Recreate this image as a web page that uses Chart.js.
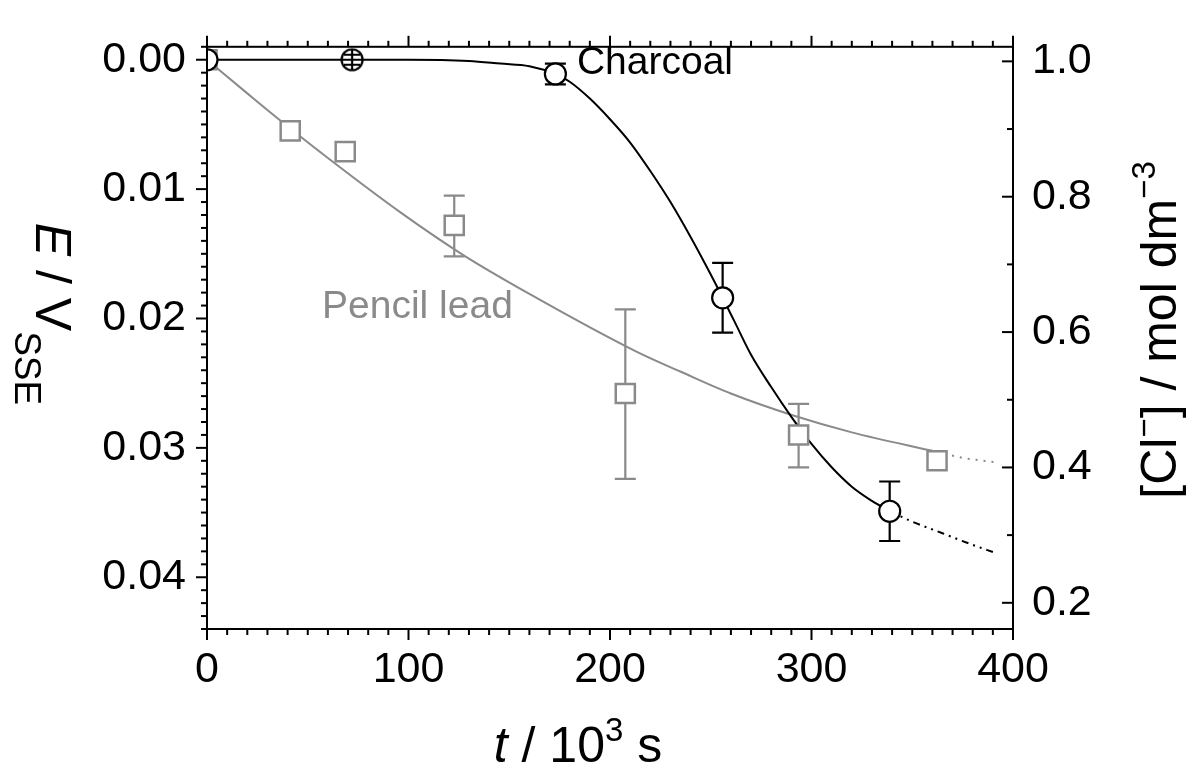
<!DOCTYPE html>
<html>
<head>
<meta charset="utf-8">
<script src="https://cdn.jsdelivr.net/npm/chart.js@4/dist/chart.umd.min.js"></script>
<style>
  html, body { margin: 0; padding: 0; background: #fff; }
  #wrap { width: 1187px; height: 769px; }
</style>
</head>
<body>
<div id="wrap"><canvas id="c" width="1187" height="769"></canvas></div>
<script>
"use strict";

// ── DATA ─────────────────────────────────
// t in 10^3 s, E in V(SSE)
const charcoalT  = [0, 72.0, 172.9, 255.9, 338.8];
const charcoalE  = [0.0000, 0.0000, 0.0011, 0.0184, 0.0349];
const charcoalLo = [null, null, 0.0003, 0.0157, 0.0326];
const charcoalHi = [null, null, 0.0019, 0.0211, 0.0372];

const pencilT  = [0, 41.3, 68.6, 122.7, 207.6, 293.6, 362.3];
const pencilE  = [0.0000, 0.0055, 0.0071, 0.0128, 0.0258, 0.0290, 0.0310];
const pencilLo = [null, null, null, 0.0105, 0.0193, 0.0266, null];
const pencilHi = [null, null, null, 0.0152, 0.0324, 0.0315, null];

// fitted curves
const charcoalFitT = [0, 60, 100, 130, 145.6, 160, 172.9, 180, 190, 200, 210, 220, 230, 240, 250, 255.9, 262, 270, 280, 290, 300, 310, 320, 330, 338.8];
const charcoalFitE = [0, 0, 0, 0.0001, 0.0003, 0.0005, 0.0011, 0.0017, 0.0030, 0.0046, 0.0064, 0.0086, 0.0110, 0.0137, 0.0166, 0.0184, 0.0203, 0.0228, 0.0253, 0.0276, 0.0297, 0.0315, 0.0330, 0.0341, 0.0349];
const charcoalExtT = [338.8, 350, 365, 380, 391];
const charcoalExtE = [0.0349, 0.0357, 0.0366, 0.0375, 0.0381];

const pencilFitT = [0, 20, 36.4, 60, 96, 127.2, 160, 213.6, 234.9, 260, 291, 320, 362];
const pencilFitE = [0, 0.0026, 0.0047, 0.0076, 0.0118, 0.0151, 0.0181, 0.0226, 0.0241, 0.0258, 0.0275, 0.0288, 0.0303];
const pencilExtT = [362, 376, 391];
const pencilExtE = [0.0303, 0.0308, 0.0311];

// axes
const xTicks  = [0, 100, 200, 300, 400];
const eTicks  = [0.00, 0.01, 0.02, 0.03, 0.04];
const clTicks = [0.2, 0.4, 0.6, 0.8, 1.0];

const FONT = "'Liberation Sans', Arial, Helvetica, sans-serif";
const GRAY = "#8a8a8a";

const pts = (xs, ys) => xs.map((x, i) => ({ x: x, y: ys[i] }));

// circle with tiny error bar drawn inside (⊕ look)
function crossedCircle() {
  const c = document.createElement("canvas");
  c.width = 28; c.height = 28;
  const g = c.getContext("2d");
  g.fillStyle = "#fff"; g.strokeStyle = "#000"; g.lineWidth = 2.2;
  g.beginPath(); g.arc(14, 14, 10.5, 0, Math.PI * 2); g.fill(); g.stroke();
  g.beginPath();
  g.moveTo(3.5, 14); g.lineTo(24.5, 14);
  g.moveTo(14, 3.5); g.lineTo(14, 24.5);
  g.moveTo(6, 9); g.lineTo(22, 9);
  g.moveTo(6, 19); g.lineTo(22, 19);
  g.stroke();
  return c;
}

// ── PLUGINS ──────────────────────────────
function drawBars(ctx, x, y, ts, lo, hi, color) {
  ctx.strokeStyle = color;
  ctx.lineWidth = 2.2;
  ts.forEach((t, i) => {
    if (lo[i] == null) return;
    const px = x.getPixelForValue(t);
    const a = y.getPixelForValue(lo[i]);
    const b = y.getPixelForValue(hi[i]);
    ctx.beginPath();
    ctx.moveTo(px, a); ctx.lineTo(px, b);
    ctx.moveTo(px - 10.5, a); ctx.lineTo(px + 10.5, a);
    ctx.moveTo(px - 10.5, b); ctx.lineTo(px + 10.5, b);
    ctx.stroke();
  });
}

const errorBars = {
  id: "errorBars",
  beforeDatasetsDraw(chart) {
    const { ctx, scales: { x, y } } = chart;
    ctx.save();
    drawBars(ctx, x, y, pencilT, pencilLo, pencilHi, GRAY);
    drawBars(ctx, x, y, charcoalT, charcoalLo, charcoalHi, "#000");
    ctx.restore();
  },
};

function richText(ctx, parts, cx, cy, rot) {
  ctx.save();
  ctx.translate(cx, cy);
  ctx.rotate(rot);
  ctx.textBaseline = "alphabetic";
  ctx.textAlign = "left";
  let total = 0;
  parts.forEach((p) => { ctx.font = p.font; total += ctx.measureText(p.text).width; });
  let pos = -total / 2;
  parts.forEach((p) => {
    ctx.font = p.font;
    ctx.fillStyle = "#000";
    ctx.fillText(p.text, pos, p.dy || 0);
    pos += ctx.measureText(p.text).width;
  });
  ctx.restore();
}

const frame = {
  id: "frame",
  afterDatasetsDraw(chart) {
    const { ctx, chartArea: a, scales: { x, y, y2 } } = chart;
    ctx.save();
    ctx.strokeStyle = "#000";
    ctx.lineWidth = 2;
    const line = (x1, y1, x2, y2_) => { ctx.beginPath(); ctx.moveTo(x1, y1); ctx.lineTo(x2, y2_); ctx.stroke(); };

    ctx.strokeRect(a.left, a.top, a.right - a.left, a.bottom - a.top);

    // bottom + top ticks, every 10
    for (let v = 0; v <= 400; v += 10) {
      const px = x.getPixelForValue(v);
      const len = v % 100 === 0 ? 11 : 6;
      line(px, a.bottom, px, a.bottom + len);
      line(px, a.top, px, a.top - len);
    }
    // left ticks, every 0.001
    for (let k = -1; k <= 44; k++) {
      const py = y.getPixelForValue(k / 1000);
      const len = k % 10 === 0 ? 11 : 6;
      line(a.left - len, py, a.left, py);
    }
    // right ticks, inward, every 0.1
    for (let k = 2; k <= 10; k++) {
      const py = y2.getPixelForValue(k / 10);
      const len = k % 2 === 0 ? 11 : 6;
      line(a.right - len, py, a.right, py);
    }
    ctx.restore();
  },
  afterDraw(chart) {
    const { ctx, scales: { x, y } } = chart;
    // in-plot labels
    ctx.save();
    ctx.font = "39px " + FONT;
    ctx.textBaseline = "alphabetic";
    ctx.fillStyle = "#000";
    ctx.fillText("Charcoal", x.getPixelForValue(183.6), y.getPixelForValue(0.0011));
    ctx.fillStyle = GRAY;
    ctx.fillText("Pencil lead", x.getPixelForValue(57.1), y.getPixelForValue(0.0200));
    ctx.restore();

    // axis titles
    const big = "50px " + FONT, bigIt = "italic 50px " + FONT, small = "37px " + FONT, sup = "33px " + FONT;
    richText(ctx, [
      { text: "E", font: bigIt },
      { text: " / V", font: big },
      { text: "SSE", font: small, dy: 21 },
    ], 36, 314, Math.PI / 2);
    richText(ctx, [
      { text: "[Cl", font: big },
      { text: "\u2212", font: sup, dy: -21 },
      { text: "] / mol dm", font: big },
      { text: "\u22123", font: sup, dy: -21 },
    ], 1176, 330, -Math.PI / 2);
    richText(ctx, [
      { text: "t", font: bigIt },
      { text: " / 10", font: big },
      { text: "3", font: sup, dy: -21 },
      { text: " s", font: big },
    ], 578, 762, 0);
  },
};

// ── CHART ────────────────────────────────
const tickFont = { family: FONT, size: 43 };

new Chart(document.getElementById("c"), {
  type: "scatter",
  data: {
    datasets: [
      {
        data: pts(charcoalT, charcoalE),
        pointStyle: ["circle", crossedCircle(), "circle", "circle", "circle"],
        pointRadius: 10.5,
        pointBackgroundColor: "#fff",
        pointBorderColor: "#000",
        pointBorderWidth: 2.2,
        clip: 0,
        order: 1,
      },
      {
        data: pts(pencilT, pencilE),
        pointStyle: "rect",
        pointRadius: 13.5,
        pointBackgroundColor: "#fff",
        pointBorderColor: GRAY,
        pointBorderWidth: 2.5,
        clip: 0,
        order: 2,
      },
      {
        data: pts(charcoalFitT, charcoalFitE),
        showLine: true, pointRadius: 0,
        borderColor: "#000", borderWidth: 2,
        cubicInterpolationMode: "monotone",
        clip: 0, order: 3,
      },
      {
        data: pts(charcoalExtT, charcoalExtE),
        showLine: true, pointRadius: 0,
        borderColor: "#000", borderWidth: 2,
        borderDash: [7, 5, 2, 5, 2, 5],
        cubicInterpolationMode: "monotone",
        clip: 0, order: 3,
      },
      {
        data: pts(pencilFitT, pencilFitE),
        showLine: true, pointRadius: 0,
        borderColor: GRAY, borderWidth: 2,
        cubicInterpolationMode: "monotone",
        clip: 0, order: 4,
      },
      {
        data: pts(pencilExtT, pencilExtE),
        showLine: true, pointRadius: 0,
        borderColor: GRAY, borderWidth: 2,
        borderDash: [2, 6],
        cubicInterpolationMode: "monotone",
        clip: 0, order: 4,
      },
    ],
  },
  options: {
    responsive: false,
    animation: false,
    devicePixelRatio: 1,
    events: [],
    layout: { padding: { top: 44, left: 0, right: 0, bottom: 0 } },
    plugins: { legend: { display: false }, tooltip: { enabled: false } },
    scales: {
      x: {
        type: "linear", position: "bottom", min: 0, max: 400,
        afterBuildTicks: (s) => { s.ticks = xTicks.map((v) => ({ value: v })); },
        afterFit: (s) => { s.height = 140; },
        grid: { display: false, drawTicks: false },
        border: { display: false },
        ticks: { font: tickFont, color: "#000", padding: 15, maxRotation: 0, autoSkip: false,
                 callback: (v) => String(v) },
      },
      y: {
        type: "linear", position: "left", reverse: true, min: -0.001, max: 0.044,
        afterBuildTicks: (s) => { s.ticks = eTicks.map((v) => ({ value: v })); },
        afterFit: (s) => { s.width = 207; },
        grid: { display: false, drawTicks: false },
        border: { display: false },
        ticks: { font: tickFont, color: "#000", padding: 21, autoSkip: false,
                 callback: (v) => Number(v).toFixed(2) },
      },
      y2: {
        type: "linear", position: "right", min: 0.1613, max: 1.0215,
        afterBuildTicks: (s) => { s.ticks = clTicks.map((v) => ({ value: v })); },
        afterFit: (s) => { s.width = 174; },
        grid: { display: false, drawTicks: false },
        border: { display: false },
        ticks: { font: tickFont, color: "#000", padding: 19, autoSkip: false,
                 callback: (v) => Number(v).toFixed(1) },
      },
    },
  },
  plugins: [errorBars, frame],
});
</script>
</body>
</html>
